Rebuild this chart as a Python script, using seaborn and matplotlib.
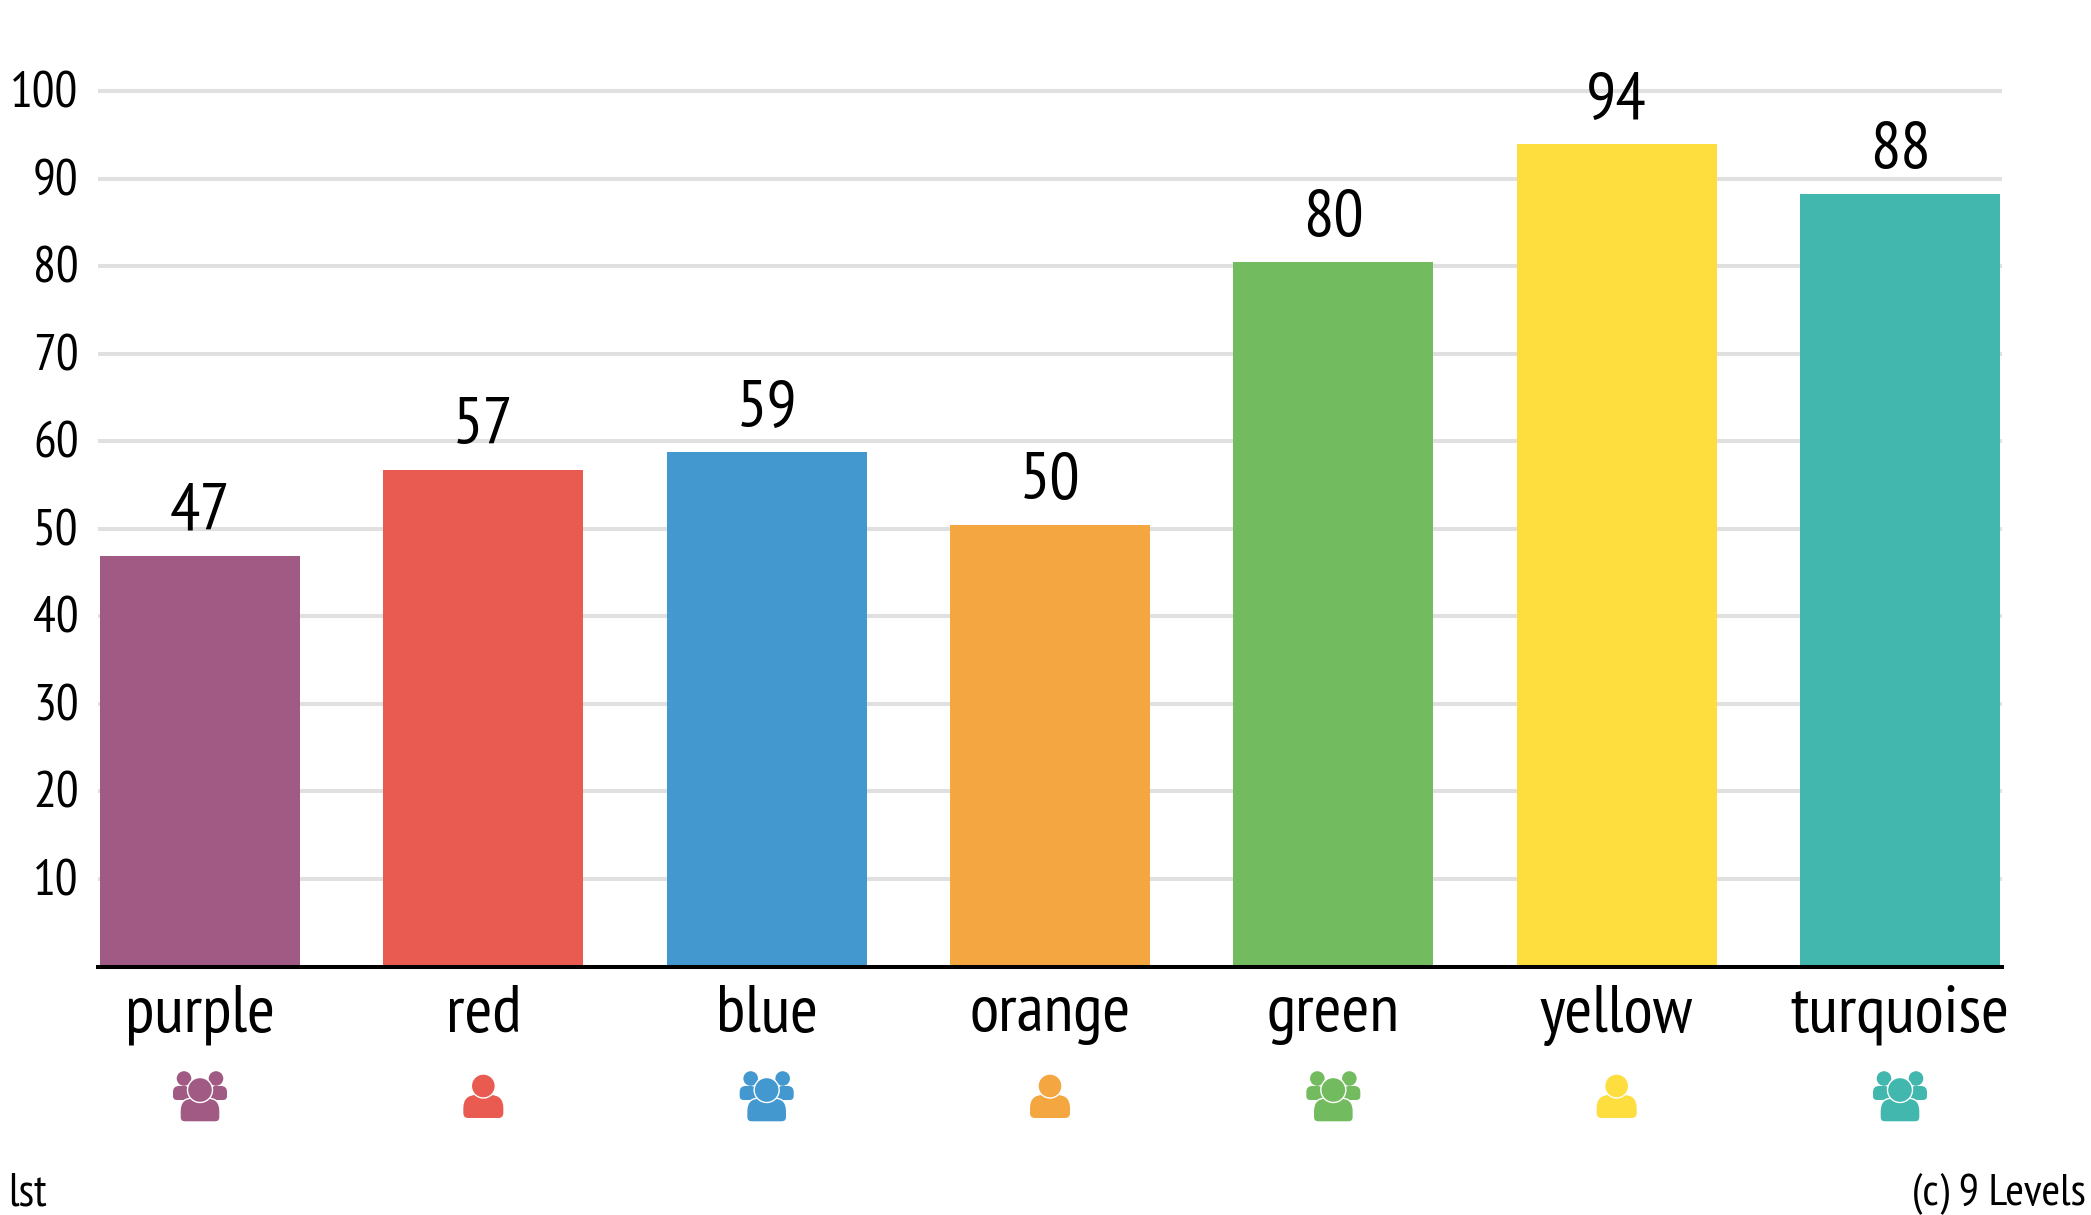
import matplotlib
matplotlib.use("Agg")
import matplotlib.pyplot as plt
from matplotlib.patches import Circle, PathPatch
from matplotlib.path import Path
from matplotlib.transforms import ScaledTranslation
import pandas as pd
import seaborn as sns

W, H = 2091, 1215

categories = ["purple", "red", "blue", "orange", "green", "yellow", "turquoise"]
values = [46.9, 56.7, 58.8, 50.4, 80.5, 94.0, 88.2]
value_labels = ["47", "57", "59", "50", "80", "94", "88"]
colors = ["#A05A84", "#E95B50", "#4298CF", "#F4A640", "#72BC5F", "#FEDE3F", "#42B7AE"]
is_group = [True, False, True, False, True, False, True]
y_ticks = [10, 20, 30, 40, 50, 60, 70, 80, 90, 100]

sns.set_theme(style="white")
plt.rcParams["font.family"] = ["PT Sans Narrow", "Open Sans", "DejaVu Sans"]

df = pd.DataFrame({"category": categories, "value": values})

fig = plt.figure(figsize=(W / 100, H / 100), dpi=100, facecolor="white")
ax = fig.add_axes([98 / W, 1 - 966.5 / H, (2002 - 98) / W, (966.5 - 56) / H])

sns.barplot(
    data=df, x="category", y="value", hue="category", palette=colors,
    width=0.706, saturation=1, legend=False, ax=ax, zorder=3, linewidth=0,
)
ax.set_xlim(-0.36, 6.36)
ax.set_ylim(0, 104)
ax.set_yticks(y_ticks)
ax.set_xlabel("")
ax.set_ylabel("")
ax.grid(axis="y", color="#E0E0E0", linewidth=2.9, zorder=0)
ax.set_axisbelow(True)
sns.despine(ax=ax, left=True)
ax.spines["bottom"].set_color("black")
ax.spines["bottom"].set_linewidth(2.9)
ax.spines["bottom"].set_zorder(5)
ax.tick_params(axis="y", length=0, pad=14, labelsize=36.5, labelcolor="black")
ax.tick_params(axis="x", length=0, pad=13, labelsize=48.5, labelcolor="black")

# y labels sit slightly above their gridlines
shift_up = ScaledTranslation(0, 1.5 / 100, fig.dpi_scale_trans)
for tick in ax.get_yticklabels():
    tick.set_transform(tick.get_transform() + shift_up)

for container, label in zip(ax.containers, value_labels):
    ax.bar_label(container, labels=[label], padding=9, fontsize=48.5, color="black")

fig.text(8 / W, 1 - 1205 / H, "lst", fontsize=33, color="black", va="baseline")
fig.text(2086 / W, 1 - 1205 / H, "(c) 9 Levels", fontsize=32.5, color="black", ha="right", va="baseline")

# people icons under the labels, drawn in a pixel overlay
overlay = fig.add_axes([0, 0, 1, 1], facecolor="none")
overlay.set_xlim(0, W)
overlay.set_ylim(H, 0)
overlay.axis("off")


def body_path(x0, x1, y0, y1, rt, rb):
    verts = [
        (x0, y1 - rb), (x0, y0 + rt), (x0, y0), (x0 + rt, y0),
        (x1 - rt, y0), (x1, y0), (x1, y0 + rt),
        (x1, y1 - rb), (x1, y1), (x1 - rb, y1),
        (x0 + rb, y1), (x0, y1), (x0, y1 - rb),
    ]
    codes = [Path.MOVETO, Path.LINETO, Path.CURVE3, Path.CURVE3,
             Path.LINETO, Path.CURVE3, Path.CURVE3,
             Path.LINETO, Path.CURVE3, Path.CURVE3,
             Path.LINETO, Path.CURVE3, Path.CURVE3]
    return Path(verts, codes)


def draw_single(cx, color):
    overlay.add_patch(PathPatch(body_path(cx - 20, cx + 20, 1095, 1118, 13, 5), fc=color, ec="none"))
    overlay.add_patch(Circle((cx, 1086), 12, fc=color, ec="white", lw=1))


def draw_group(cx, color):
    for side in (-1, 1):
        overlay.add_patch(Circle((cx + side * 16, 1078.5), 7.3, fc=color, ec="none"))
        x0, x1 = sorted((cx + side * 10, cx + side * 27))
        overlay.add_patch(PathPatch(body_path(x0, x1, 1086, 1100, 6, 4), fc=color, ec="none"))
    overlay.add_patch(PathPatch(body_path(cx - 20, cx + 20, 1098, 1122, 13, 5), fc=color, ec="white", lw=1))
    overlay.add_patch(Circle((cx, 1090), 12.5, fc=color, ec="white", lw=1))


for i, (color, group) in enumerate(zip(colors, is_group)):
    cx = ax.transData.transform((i, 0))[0]
    if group:
        draw_group(cx, color)
    else:
        draw_single(cx, color)

fig.savefig("out.png", dpi=100, facecolor="white")
